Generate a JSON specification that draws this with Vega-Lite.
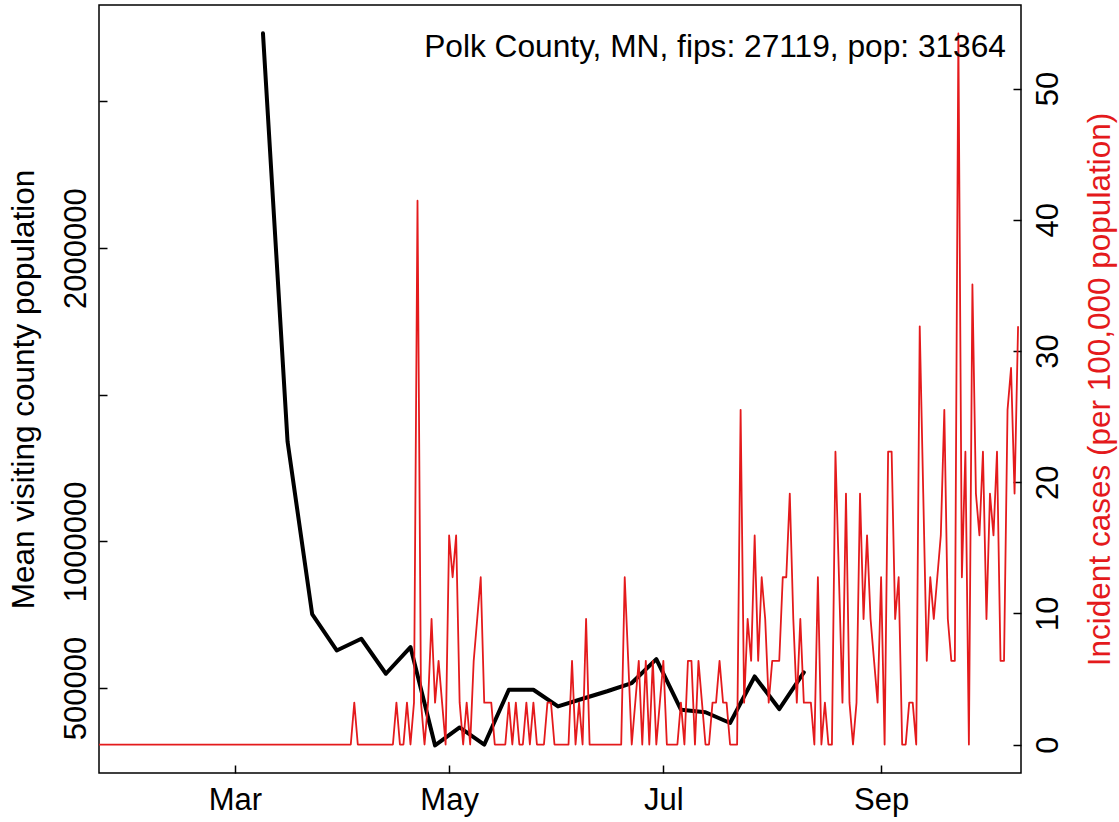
{
  "$schema": "https://vega.github.io/schema/vega-lite/v6.json",
  "width": 922,
  "height": 768,
  "autosize": {"type": "none"},
  "padding": {"left": 99, "top": 5, "right": 98, "bottom": 49},
  "background": "white",
  "config": {
    "font": "Liberation Sans",
    "view": {"stroke": "black", "strokeWidth": 1.5},
    "axis": {
      "labelFont": "Liberation Sans",
      "labelFontSize": 31,
      "labelColor": "black",
      "tickColor": "black",
      "tickWidth": 1.5,
      "titleFont": "Liberation Sans",
      "titleFontSize": 31.5,
      "titleFontWeight": "normal",
      "titleColor": "black",
      "grid": false,
      "domain": false
    }
  },
  "title": {
    "text": "Polk County, MN, fips: 27119, pop: 31364",
    "anchor": "end",
    "frame": "group",
    "font": "Liberation Sans",
    "fontSize": 31.7,
    "fontWeight": "normal",
    "color": "black",
    "baseline": "alphabetic",
    "offset": 0,
    "dx": -15,
    "dy": 84
  },
  "datasets": {
    "mobility": [
      {"date": "2020-03-09", "visitors": 2732400},
      {"date": "2020-03-16", "visitors": 1340500},
      {"date": "2020-03-23", "visitors": 752200},
      {"date": "2020-03-30", "visitors": 628200},
      {"date": "2020-04-06", "visitors": 668000},
      {"date": "2020-04-13", "visitors": 548700},
      {"date": "2020-04-20", "visitors": 639700},
      {"date": "2020-04-27", "visitors": 304400},
      {"date": "2020-05-04", "visitors": 365700},
      {"date": "2020-05-11", "visitors": 306800},
      {"date": "2020-05-18", "visitors": 494200},
      {"date": "2020-05-25", "visitors": 494200},
      {"date": "2020-06-01", "visitors": 437300},
      {"date": "2020-06-08", "visitors": 463500},
      {"date": "2020-06-15", "visitors": 489100},
      {"date": "2020-06-22", "visitors": 517000},
      {"date": "2020-06-29", "visitors": 598800},
      {"date": "2020-07-06", "visitors": 426000},
      {"date": "2020-07-13", "visitors": 417500},
      {"date": "2020-07-20", "visitors": 380700},
      {"date": "2020-07-27", "visitors": 539500},
      {"date": "2020-08-03", "visitors": 428400},
      {"date": "2020-08-10", "visitors": 553200}
    ],
    "cases": [
      {"date": "2020-01-22", "rate": 0}, {"date": "2020-01-23", "rate": 0}, {"date": "2020-01-24", "rate": 0}, {"date": "2020-01-25", "rate": 0}, {"date": "2020-01-26", "rate": 0},
      {"date": "2020-01-27", "rate": 0}, {"date": "2020-01-28", "rate": 0}, {"date": "2020-01-29", "rate": 0}, {"date": "2020-01-30", "rate": 0}, {"date": "2020-01-31", "rate": 0},
      {"date": "2020-02-01", "rate": 0}, {"date": "2020-02-02", "rate": 0}, {"date": "2020-02-03", "rate": 0}, {"date": "2020-02-04", "rate": 0}, {"date": "2020-02-05", "rate": 0},
      {"date": "2020-02-06", "rate": 0}, {"date": "2020-02-07", "rate": 0}, {"date": "2020-02-08", "rate": 0}, {"date": "2020-02-09", "rate": 0}, {"date": "2020-02-10", "rate": 0},
      {"date": "2020-02-11", "rate": 0}, {"date": "2020-02-12", "rate": 0}, {"date": "2020-02-13", "rate": 0}, {"date": "2020-02-14", "rate": 0}, {"date": "2020-02-15", "rate": 0},
      {"date": "2020-02-16", "rate": 0}, {"date": "2020-02-17", "rate": 0}, {"date": "2020-02-18", "rate": 0}, {"date": "2020-02-19", "rate": 0}, {"date": "2020-02-20", "rate": 0},
      {"date": "2020-02-21", "rate": 0}, {"date": "2020-02-22", "rate": 0}, {"date": "2020-02-23", "rate": 0}, {"date": "2020-02-24", "rate": 0}, {"date": "2020-02-25", "rate": 0},
      {"date": "2020-02-26", "rate": 0}, {"date": "2020-02-27", "rate": 0}, {"date": "2020-02-28", "rate": 0}, {"date": "2020-02-29", "rate": 0},
      {"date": "2020-03-01", "rate": 0}, {"date": "2020-03-02", "rate": 0}, {"date": "2020-03-03", "rate": 0}, {"date": "2020-03-04", "rate": 0}, {"date": "2020-03-05", "rate": 0},
      {"date": "2020-03-06", "rate": 0}, {"date": "2020-03-07", "rate": 0}, {"date": "2020-03-08", "rate": 0}, {"date": "2020-03-09", "rate": 0}, {"date": "2020-03-10", "rate": 0},
      {"date": "2020-03-11", "rate": 0}, {"date": "2020-03-12", "rate": 0}, {"date": "2020-03-13", "rate": 0}, {"date": "2020-03-14", "rate": 0}, {"date": "2020-03-15", "rate": 0},
      {"date": "2020-03-16", "rate": 0}, {"date": "2020-03-17", "rate": 0}, {"date": "2020-03-18", "rate": 0}, {"date": "2020-03-19", "rate": 0}, {"date": "2020-03-20", "rate": 0},
      {"date": "2020-03-21", "rate": 0}, {"date": "2020-03-22", "rate": 0}, {"date": "2020-03-23", "rate": 0}, {"date": "2020-03-24", "rate": 0}, {"date": "2020-03-25", "rate": 0},
      {"date": "2020-03-26", "rate": 0}, {"date": "2020-03-27", "rate": 0}, {"date": "2020-03-28", "rate": 0}, {"date": "2020-03-29", "rate": 0}, {"date": "2020-03-30", "rate": 0},
      {"date": "2020-03-31", "rate": 0},
      {"date": "2020-04-01", "rate": 0}, {"date": "2020-04-02", "rate": 0}, {"date": "2020-04-03", "rate": 0}, {"date": "2020-04-04", "rate": 3.19}, {"date": "2020-04-05", "rate": 0},
      {"date": "2020-04-06", "rate": 0}, {"date": "2020-04-07", "rate": 0}, {"date": "2020-04-08", "rate": 0}, {"date": "2020-04-09", "rate": 0}, {"date": "2020-04-10", "rate": 0},
      {"date": "2020-04-11", "rate": 0}, {"date": "2020-04-12", "rate": 0}, {"date": "2020-04-13", "rate": 0}, {"date": "2020-04-14", "rate": 0}, {"date": "2020-04-15", "rate": 0},
      {"date": "2020-04-16", "rate": 3.19}, {"date": "2020-04-17", "rate": 0}, {"date": "2020-04-18", "rate": 0}, {"date": "2020-04-19", "rate": 3.19}, {"date": "2020-04-20", "rate": 0},
      {"date": "2020-04-21", "rate": 3.19}, {"date": "2020-04-22", "rate": 41.45}, {"date": "2020-04-23", "rate": 3.19}, {"date": "2020-04-24", "rate": 0}, {"date": "2020-04-25", "rate": 3.19},
      {"date": "2020-04-26", "rate": 9.57}, {"date": "2020-04-27", "rate": 3.19}, {"date": "2020-04-28", "rate": 6.38}, {"date": "2020-04-29", "rate": 3.19}, {"date": "2020-04-30", "rate": 0},
      {"date": "2020-05-01", "rate": 15.94}, {"date": "2020-05-02", "rate": 12.75}, {"date": "2020-05-03", "rate": 15.94}, {"date": "2020-05-04", "rate": 3.19}, {"date": "2020-05-05", "rate": 0},
      {"date": "2020-05-06", "rate": 3.19}, {"date": "2020-05-07", "rate": 0}, {"date": "2020-05-08", "rate": 6.38}, {"date": "2020-05-09", "rate": 9.57}, {"date": "2020-05-10", "rate": 12.75},
      {"date": "2020-05-11", "rate": 3.19}, {"date": "2020-05-12", "rate": 3.19}, {"date": "2020-05-13", "rate": 3.19}, {"date": "2020-05-14", "rate": 0}, {"date": "2020-05-15", "rate": 0},
      {"date": "2020-05-16", "rate": 0}, {"date": "2020-05-17", "rate": 0}, {"date": "2020-05-18", "rate": 3.19}, {"date": "2020-05-19", "rate": 0}, {"date": "2020-05-20", "rate": 3.19},
      {"date": "2020-05-21", "rate": 0}, {"date": "2020-05-22", "rate": 0}, {"date": "2020-05-23", "rate": 3.19}, {"date": "2020-05-24", "rate": 0}, {"date": "2020-05-25", "rate": 3.19},
      {"date": "2020-05-26", "rate": 0}, {"date": "2020-05-27", "rate": 0}, {"date": "2020-05-28", "rate": 0}, {"date": "2020-05-29", "rate": 3.19}, {"date": "2020-05-30", "rate": 3.19},
      {"date": "2020-05-31", "rate": 0},
      {"date": "2020-06-01", "rate": 0}, {"date": "2020-06-02", "rate": 0}, {"date": "2020-06-03", "rate": 0}, {"date": "2020-06-04", "rate": 0}, {"date": "2020-06-05", "rate": 6.38},
      {"date": "2020-06-06", "rate": 0}, {"date": "2020-06-07", "rate": 3.19}, {"date": "2020-06-08", "rate": 0}, {"date": "2020-06-09", "rate": 9.57}, {"date": "2020-06-10", "rate": 0},
      {"date": "2020-06-11", "rate": 0}, {"date": "2020-06-12", "rate": 0}, {"date": "2020-06-13", "rate": 0}, {"date": "2020-06-14", "rate": 0}, {"date": "2020-06-15", "rate": 0},
      {"date": "2020-06-16", "rate": 0}, {"date": "2020-06-17", "rate": 0}, {"date": "2020-06-18", "rate": 0}, {"date": "2020-06-19", "rate": 0}, {"date": "2020-06-20", "rate": 12.75},
      {"date": "2020-06-21", "rate": 6.38}, {"date": "2020-06-22", "rate": 0}, {"date": "2020-06-23", "rate": 3.19}, {"date": "2020-06-24", "rate": 6.38}, {"date": "2020-06-25", "rate": 0},
      {"date": "2020-06-26", "rate": 6.38}, {"date": "2020-06-27", "rate": 0}, {"date": "2020-06-28", "rate": 6.38}, {"date": "2020-06-29", "rate": 0}, {"date": "2020-06-30", "rate": 3.19},
      {"date": "2020-07-01", "rate": 6.38}, {"date": "2020-07-02", "rate": 0}, {"date": "2020-07-03", "rate": 0}, {"date": "2020-07-04", "rate": 0}, {"date": "2020-07-05", "rate": 0},
      {"date": "2020-07-06", "rate": 3.19}, {"date": "2020-07-07", "rate": 0}, {"date": "2020-07-08", "rate": 6.38}, {"date": "2020-07-09", "rate": 6.38}, {"date": "2020-07-10", "rate": 0},
      {"date": "2020-07-11", "rate": 6.38}, {"date": "2020-07-12", "rate": 3.19}, {"date": "2020-07-13", "rate": 0}, {"date": "2020-07-14", "rate": 0}, {"date": "2020-07-15", "rate": 3.19},
      {"date": "2020-07-16", "rate": 3.19}, {"date": "2020-07-17", "rate": 6.38}, {"date": "2020-07-18", "rate": 3.19}, {"date": "2020-07-19", "rate": 3.19}, {"date": "2020-07-20", "rate": 0},
      {"date": "2020-07-21", "rate": 0}, {"date": "2020-07-22", "rate": 0}, {"date": "2020-07-23", "rate": 25.51}, {"date": "2020-07-24", "rate": 3.19}, {"date": "2020-07-25", "rate": 9.57},
      {"date": "2020-07-26", "rate": 6.38}, {"date": "2020-07-27", "rate": 15.94}, {"date": "2020-07-28", "rate": 6.38}, {"date": "2020-07-29", "rate": 12.75}, {"date": "2020-07-30", "rate": 9.57},
      {"date": "2020-07-31", "rate": 3.19},
      {"date": "2020-08-01", "rate": 6.38}, {"date": "2020-08-02", "rate": 6.38}, {"date": "2020-08-03", "rate": 6.38}, {"date": "2020-08-04", "rate": 12.75}, {"date": "2020-08-05", "rate": 12.75},
      {"date": "2020-08-06", "rate": 19.13}, {"date": "2020-08-07", "rate": 9.57}, {"date": "2020-08-08", "rate": 3.19}, {"date": "2020-08-09", "rate": 9.57}, {"date": "2020-08-10", "rate": 3.19},
      {"date": "2020-08-11", "rate": 3.19}, {"date": "2020-08-12", "rate": 3.19}, {"date": "2020-08-13", "rate": 0}, {"date": "2020-08-14", "rate": 12.75}, {"date": "2020-08-15", "rate": 0},
      {"date": "2020-08-16", "rate": 3.19}, {"date": "2020-08-17", "rate": 0}, {"date": "2020-08-18", "rate": 0}, {"date": "2020-08-19", "rate": 22.32}, {"date": "2020-08-20", "rate": 12.75},
      {"date": "2020-08-21", "rate": 3.19}, {"date": "2020-08-22", "rate": 19.13}, {"date": "2020-08-23", "rate": 3.19}, {"date": "2020-08-24", "rate": 0}, {"date": "2020-08-25", "rate": 3.19},
      {"date": "2020-08-26", "rate": 19.13}, {"date": "2020-08-27", "rate": 9.57}, {"date": "2020-08-28", "rate": 15.94}, {"date": "2020-08-29", "rate": 9.57}, {"date": "2020-08-30", "rate": 6.38},
      {"date": "2020-08-31", "rate": 3.19},
      {"date": "2020-09-01", "rate": 12.75}, {"date": "2020-09-02", "rate": 0}, {"date": "2020-09-03", "rate": 22.32}, {"date": "2020-09-04", "rate": 22.32}, {"date": "2020-09-05", "rate": 9.57},
      {"date": "2020-09-06", "rate": 12.75}, {"date": "2020-09-07", "rate": 0}, {"date": "2020-09-08", "rate": 0}, {"date": "2020-09-09", "rate": 3.19}, {"date": "2020-09-10", "rate": 3.19},
      {"date": "2020-09-11", "rate": 0}, {"date": "2020-09-12", "rate": 31.88}, {"date": "2020-09-13", "rate": 19.13}, {"date": "2020-09-14", "rate": 6.38}, {"date": "2020-09-15", "rate": 12.75},
      {"date": "2020-09-16", "rate": 9.57}, {"date": "2020-09-17", "rate": 12.75}, {"date": "2020-09-18", "rate": 15.94}, {"date": "2020-09-19", "rate": 25.51}, {"date": "2020-09-20", "rate": 9.57},
      {"date": "2020-09-21", "rate": 6.38}, {"date": "2020-09-22", "rate": 6.38}, {"date": "2020-09-23", "rate": 54.2}, {"date": "2020-09-24", "rate": 12.75}, {"date": "2020-09-25", "rate": 22.32},
      {"date": "2020-09-26", "rate": 0}, {"date": "2020-09-27", "rate": 35.07}, {"date": "2020-09-28", "rate": 19.13}, {"date": "2020-09-29", "rate": 15.94}, {"date": "2020-09-30", "rate": 22.32},
      {"date": "2020-10-01", "rate": 9.57}, {"date": "2020-10-02", "rate": 19.13}, {"date": "2020-10-03", "rate": 15.94}, {"date": "2020-10-04", "rate": 22.32}, {"date": "2020-10-05", "rate": 6.38},
      {"date": "2020-10-06", "rate": 6.38}, {"date": "2020-10-07", "rate": 25.51}, {"date": "2020-10-08", "rate": 28.7}, {"date": "2020-10-09", "rate": 19.13}, {"date": "2020-10-10", "rate": 31.88}
    ]
  },
  "layer": [
    {
      "data": {"name": "mobility"},
      "mark": {"type": "line", "color": "black", "strokeWidth": 4, "strokeJoin": "round", "strokeCap": "round", "clip": true},
      "encoding": {
        "x": {
          "field": "date",
          "type": "temporal",
          "scale": {
            "type": "utc",
            "domain": [
              {"year": 2020, "month": 1, "date": 22, "hours": 7, "minutes": 30, "utc": true},
              {"year": 2020, "month": 10, "date": 10, "hours": 20, "utc": true}
            ]
          },
          "axis": {
            "orient": "bottom",
            "values": [
              {"year": 2020, "month": 3, "date": 1, "utc": true},
              {"year": 2020, "month": 5, "date": 1, "utc": true},
              {"year": 2020, "month": 7, "date": 1, "utc": true},
              {"year": 2020, "month": 9, "date": 1, "utc": true}
            ],
            "format": "%b",
            "labelAngle": 0,
            "labelAlign": "center",
            "labelBaseline": "alphabetic",
            "labelPadding": 44.7,
            "tickSize": -8,
            "labelFlush": false,
            "labelOverlap": false,
            "title": null
          }
        },
        "y": {
          "field": "visitors",
          "type": "quantitative",
          "scale": {"domain": [210300, 2828900], "zero": false, "nice": false},
          "axis": {
            "orient": "left",
            "values": [500000, 1000000, 1500000, 2000000, 2500000],
            "format": "d",
            "labelExpr": "datum.value == 1500000 || datum.value == 2500000 ? '' : datum.label",
            "labelAngle": 270,
            "labelAlign": "center",
            "labelBaseline": "alphabetic",
            "labelPadding": 22,
            "tickSize": -8,
            "labelFlush": false,
            "labelOverlap": false,
            "title": "Mean visiting county population",
            "titleAngle": 270,
            "titleAlign": "center",
            "titleBaseline": "alphabetic",
            "titleX": -66,
            "titleY": 384
          }
        }
      }
    },
    {
      "data": {"name": "cases"},
      "mark": {"type": "line", "color": "#e41a1c", "strokeWidth": 1.8, "strokeJoin": "round", "clip": true},
      "encoding": {
        "x": {"field": "date", "type": "temporal"},
        "y": {
          "field": "rate",
          "type": "quantitative",
          "scale": {"domain": [-2.17, 56.37], "zero": false, "nice": false},
          "axis": {
            "orient": "right",
            "values": [0, 10, 20, 30, 40, 50],
            "format": "d",
            "labelAngle": 270,
            "labelAlign": "center",
            "labelBaseline": "alphabetic",
            "labelPadding": 44.6,
            "tickSize": -8,
            "labelFlush": false,
            "labelOverlap": false,
            "title": "Incident cases (per 100,000 population)",
            "titleColor": "#e41a1c",
            "titleAngle": 270,
            "titleAlign": "center",
            "titleBaseline": "alphabetic",
            "titleX": 88.5,
            "titleY": 384
          }
        }
      }
    }
  ],
  "resolve": {"scale": {"y": "independent"}, "axis": {"y": "independent"}}
}
